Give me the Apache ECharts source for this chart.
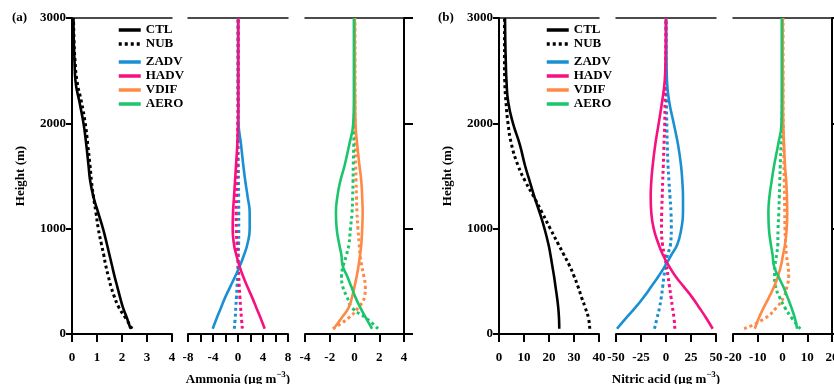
<!DOCTYPE html>
<html><head><meta charset="utf-8">
<script src="https://cdn.jsdelivr.net/npm/echarts@6/dist/echarts.min.js"></script>
<style>html,body{margin:0;padding:0;background:#fff}#c{width:834px;height:384px}</style>
</head><body><div id="c"></div>
<script>
// Heights (m) shared by all profiles
const heights = [50,150,250,350,450,550,650,750,850,1000,1150,1300,1450,1600,1800,2000,2200,2400,2600,2800,3000];

// Panel (a) Ammonia
const aCTL   = [2.34,2.2,2.04,1.92,1.81,1.7,1.6,1.5,1.4,1.24,1.05,0.86,0.73,0.66,0.57,0.46,0.3,0.14,0.1,0.07,0.06];
const aNUB   = [2.4,2.15,1.88,1.7,1.56,1.45,1.35,1.27,1.18,1.05,0.96,0.86,0.78,0.72,0.63,0.53,0.38,0.2,0.12,0.08,0.06];
const aZADV  = [-4.05,-3.41,-2.72,-2.03,-1.23,-0.43,0.32,0.96,1.49,1.87,1.87,1.55,1.17,0.85,0.48,0.08,0.02,0,0,0,0];
const aHADV  = [4.27,3.63,2.93,2.24,1.49,0.8,0.21,-0.27,-0.64,-0.85,-0.8,-0.64,-0.48,-0.32,-0.11,0,0.05,0.05,0.05,0.05,0.05];
const aZADVn = [-0.6,-0.45,-0.35,-0.25,-0.15,-0.1,0,0.05,0.1,0.12,0.12,0.1,0.08,0.05,0.02,0,0,0,0,0,0];
const aHADVn = [0.7,0.55,0.42,0.3,0.2,0.12,0.05,-0.05,-0.15,-0.28,-0.3,-0.25,-0.18,-0.12,-0.06,0,0.02,0.03,0.03,0.03,0.03];
const aVDIF  = [-1.68,-1.06,-0.47,-0.2,0,0.18,0.33,0.45,0.55,0.62,0.66,0.62,0.55,0.4,0.22,0.08,0.05,0.03,0.03,0.02,0.02];
const aAERO  = [1.42,0.93,0.47,0.07,-0.26,-0.6,-0.96,-1.06,-1.23,-1.44,-1.5,-1.39,-1.15,-0.8,-0.42,-0.1,-0.05,-0.05,-0.05,-0.05,-0.05];
const aVDIFn = [-1.75,-0.5,0.3,0.8,0.88,0.75,0.58,0.45,0.38,0.28,0.2,0.16,0.13,0.1,0.08,0.05,0.04,0.04,0.04,0.04,0.04];
const aAEROn = [1.9,0.95,-0.2,-0.6,-0.95,-1.05,-0.9,-0.65,-0.45,-0.33,-0.2,-0.15,-0.12,-0.1,-0.06,-0.03,0,0,0,0,0];

// Panel (b) Nitric acid
const bCTL   = [24.1,24.0,23.7,23.2,22.6,22.0,21.3,20.6,19.8,18.2,16.3,14.2,12.3,10.4,8.3,5.6,3.7,3.0,2.7,2.5,2.4];
const bNUB   = [36.3,35.8,34.5,33.0,31.6,30.0,28.2,26.0,23.8,20.5,17.3,14.0,10.5,7.6,5.0,3.6,2.8,2.3,2.2,2.2,2.2];
const bZADV  = [-49,-40,-30.7,-22.3,-14.7,-7.3,-0.7,5.3,11.3,15.3,17,17,16.3,15,12,7.7,3.3,1.0,0.5,0.3,0];
const bHADV  = [46.7,40.3,33.3,26,17.7,9.3,2.7,-3,-7.3,-12.3,-14.7,-15.3,-14.7,-13.3,-10.7,-7.3,-4,-1.3,-0.5,-0.2,0];
const bZADVn = [-11.5,-9,-6.5,-4.7,-3.3,-2.0,-0.5,1.5,4.5,5.3,5.0,4.0,3.0,2.0,1.3,0.8,0.5,0.3,0,0,0];
const bHADVn = [8.8,8,6.5,5,3.5,2,0.5,-1.5,-3.5,-4.5,-4.3,-3.8,-3.3,-2.7,-2,-1.3,-1,-0.5,-0.2,0,0];
const bVDIF  = [-11.2,-9.6,-7.6,-5.4,-3.4,-1.8,-0.6,0.2,1.0,1.7,1.9,1.8,1.5,1.0,0.6,0.3,0.2,0.2,0.1,0.1,0.1];
const bAERO  = [5.9,5.0,3.6,2.0,0.3,-1.75,-3.5,-4.0,-4.7,-5.5,-5.7,-5.3,-4.4,-3.4,-1.75,-0.4,-0.3,-0.3,-0.3,-0.3,-0.3];
const bVDIFn = [-15.5,-7,-2.5,0.5,1.8,2.5,2.2,1.6,1.3,1.0,0.9,0.8,0.7,0.6,0.5,0.3,0.2,0.2,0.2,0.2,0.2];
const bAEROn = [7.2,3.8,1.0,-1.2,-2.8,-3.2,-3.0,-2.4,-1.9,-1.8,-1.5,-1.3,-1.1,-0.9,-0.6,-0.3,-0.1,0,0,0,0];

// Axis ranges [min, max, interval] per sub-plot
const xRanges = [[0,4,1],[-8,8,2],[-4,4,2],[0,40,10],[-50,50,25],[-20,20,10]];
const yTicks = [0, 3000, 1000];

const FONT = 'Liberation Serif';
const txt = {fontFamily: FONT, fontWeight: 'bold', fontSize: 13, color: '#000'};
const C = {ZADV:'#1a8fd3', HADV:'#f5117f', VDIF:'#ff8a45', AERO:'#1bc56b', K:'#000'};

const grids = [
  {left:72, width:100}, {left:188, width:100}, {left:305, width:99},
  {left:499, width:100}, {left:616, width:100}, {left:733, width:99}
].map(g => ({left:g.left, width:g.width, top:18, height:316, containLabel:false, outerBoundsMode:'none'}));

const xAxes = [], yAxes = [];
grids.forEach((g, i) => {
  const r = xRanges[i];
  xAxes.push({
    type:'value', gridIndex:i, min:r[0], max:r[1], interval:r[2], position:'bottom',
    axisLine:{show:true, onZero:false, lineStyle:{color:'#000', width:2}},
    axisTick:{show:true, inside:false, length:8, lineStyle:{color:'#000', width:2}},
    axisLabel:Object.assign({margin:17, formatter: (i===1) ? (v => (v % 4 === 0 ? String(v) : '')) : (v => String(v))}, txt),
    splitLine:{show:false},
    name: i===1 ? 'Ammonia (μg m{s|−3})' : (i===4 ? 'Nitric acid (μg m{s|−3})' : ''),
    nameLocation:'middle', nameGap:36,
    nameTextStyle: Object.assign({}, txt, {lineHeight:20, verticalAlign:'top', rich:{s:{fontFamily:FONT, fontWeight:'bold', fontSize:9, color:'#000', lineHeight:20, verticalAlign:'top'}}})
  });
  const yLeft = (i === 0 || i === 3);
  const yRight = (i === 2 || i === 5);
  yAxes.push({
    type:'value', gridIndex:i, min:yTicks[0], max:yTicks[1], interval:yTicks[2],
    show: yLeft || yRight, position: yRight ? 'right' : 'left',
    axisLine:{show:true, onZero:false, lineStyle:{color:'#000', width:2}},
    axisTick:{show:true, inside:false, length: yLeft ? 6 : 9, lineStyle:{color:'#000', width:2}},
    axisLabel:Object.assign({show: yLeft, margin:6, formatter: v => String(v)}, txt),
    splitLine:{show:false},
    name: yLeft ? 'Height (m)' : '', nameLocation:'middle', nameGap:45, nameRotate:90,
    nameTextStyle: txt
  });
});
// top frame lines
grids.forEach((g, i) => {
  const r = xRanges[i];
  xAxes.push({
    type:'value', gridIndex:i, min:r[0], max:r[1], position:'top',
    axisLine:{show:true, onZero:false, lineStyle:{color:'#111', width:1.5}},
    axisTick:{show:false}, axisLabel:{show:false}, splitLine:{show:false}
  });
});

function ser(name, vals, color, dotted, gi) {
  return {
    type:'line', name:name, xAxisIndex:gi, yAxisIndex:gi,
    data: heights.map((h, k) => [vals[k], h]),
    smooth:0.5, symbol:'none', silent:true, z: dotted ? 3 : 4,
    lineStyle:{color:color, width: dotted ? 3 : 2.6, type: dotted ? [3,3] : 'solid'},
    itemStyle:{color:color}
  };
}

const series = [
  ser('CTL', aCTL, C.K, false, 0), ser('NUB', aNUB, C.K, true, 0),
  ser('ZADV-NUB', aZADVn, C.ZADV, true, 1), ser('HADV-NUB', aHADVn, C.HADV, true, 1),
  ser('ZADV', aZADV, C.ZADV, false, 1), ser('HADV', aHADV, C.HADV, false, 1),
  ser('VDIF-NUB', aVDIFn, C.VDIF, true, 2), ser('AERO-NUB', aAEROn, C.AERO, true, 2),
  ser('VDIF', aVDIF, C.VDIF, false, 2), ser('AERO', aAERO, C.AERO, false, 2),
  ser('CTL', bCTL, C.K, false, 3), ser('NUB', bNUB, C.K, true, 3),
  ser('ZADV-NUB', bZADVn, C.ZADV, true, 4), ser('HADV-NUB', bHADVn, C.HADV, true, 4),
  ser('ZADV', bZADV, C.ZADV, false, 4), ser('HADV', bHADV, C.HADV, false, 4),
  ser('VDIF-NUB', bVDIFn, C.VDIF, true, 5), ser('AERO-NUB', bAEROn, C.AERO, true, 5),
  ser('VDIF', bVDIF, C.VDIF, false, 5), ser('AERO', bAERO, C.AERO, false, 5)
];

function leg(data, left, top) {
  return {data:data, orient:'vertical', left:left, top:top, itemWidth:22, itemHeight:14, itemGap:0,
    padding:0, selectedMode:false, lineStyle:{width:3.5},
    itemStyle:{opacity:0, borderWidth:0},
    textStyle:Object.assign({lineHeight:14, padding:[0,0,0,0]}, txt)};
}

const chart = echarts.init(document.getElementById('c'), null, {renderer:'canvas'});
chart.setOption({
  animation:false,
  backgroundColor:'#fff',
  title:[
    {text:'(a)', left:12, top:11, padding:0, textStyle:txt},
    {text:'(b)', left:438, top:11, padding:0, textStyle:txt}
  ],
  legend:[
    leg(['CTL','NUB'], 117, 23), leg(['ZADV','HADV','VDIF','AERO'], 117, 55),
    leg(['CTL','NUB'], 545, 23), leg(['ZADV','HADV','VDIF','AERO'], 545, 55)
  ],
  grid:grids, xAxis:xAxes, yAxis:yAxes, series:series
});
</script></body></html>
